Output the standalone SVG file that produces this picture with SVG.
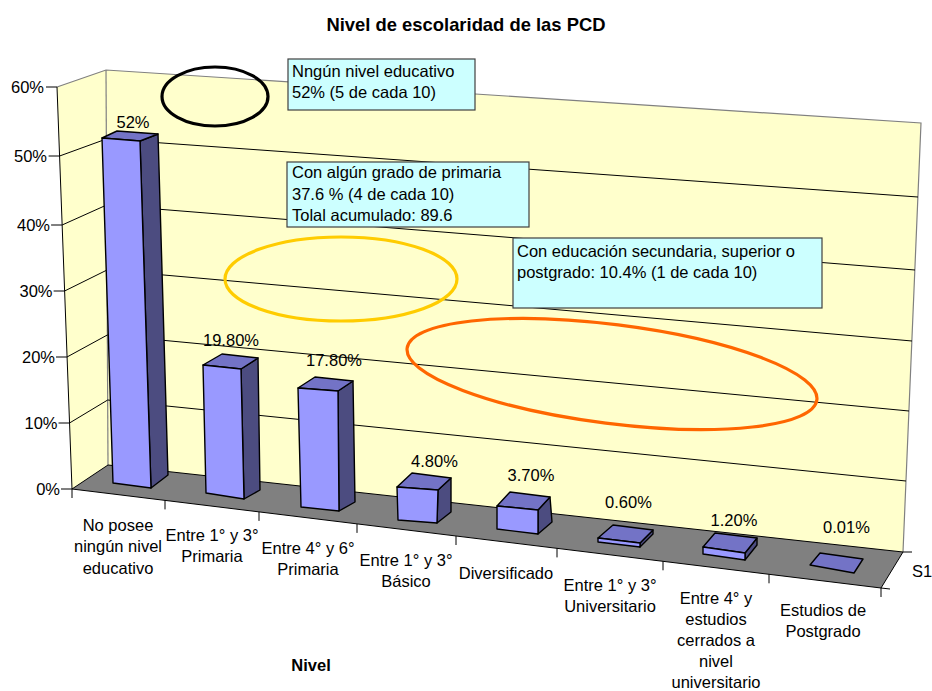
<svg xmlns="http://www.w3.org/2000/svg" width="932" height="691" viewBox="0 0 932 691">
<style>
text{font-family:"Liberation Sans",Arial,sans-serif;font-size:16.5px;fill:#000}
.c{text-anchor:middle}
.r{text-anchor:end}
.b{font-weight:bold}
.wall{fill:#FFFFCC;stroke:none}
.edge{stroke:#808080;stroke-width:1.2;fill:none}
.grid{stroke:#000;stroke-width:1;fill:none}
.fr{fill:#9999FF;stroke:#000;stroke-width:1.4;stroke-linejoin:round}
.tp{fill:#7373C6;stroke:#000;stroke-width:1.4;stroke-linejoin:round}
.sd{fill:#4C4C80;stroke:#000;stroke-width:1.4;stroke-linejoin:round}
.box{fill:#CCFFFF;stroke:#404040;stroke-width:1.2}
.tick{stroke:#000;stroke-width:1}
</style>
<rect width="932" height="691" fill="#FFFFFF"/>
<text class="c b" x="466" y="31" style="font-size:18.4px">Nivel de escolaridad de las PCD</text>

<g id="walls">
<polygon class="wall" points="57,87 106,70 108,465 72,489"/>
<polygon class="wall" points="106,70 921,123 903,552 108,465"/>
<polygon fill="#808080" points="72,489 108,465 903,552 881,588"/>
<polyline class="edge" points="57,87 106,70 921,123 903,552"/>
<line class="edge" x1="106" y1="70" x2="108" y2="465"/>
</g>

<g id="gridlines">
<polyline class="grid" points="59.6,156 106.3,139 918,197"/>
<polyline class="grid" points="62.1,225 106.6,205 915,270"/>
<polyline class="grid" points="64.6,291 107,270 912,341"/>
<polyline class="grid" points="67,357 107.3,335 909,411"/>
<polyline class="grid" points="69.5,423 107.7,400 906,481"/>
<polyline class="grid" points="72,489 108,465 903,552 881,588"/>
</g>

<g id="value-axis">
<line class="tick" x1="57" y1="87" x2="72" y2="489"/>
<line class="tick" x1="46" y1="87" x2="57" y2="87"/>
<line class="tick" x1="48.6" y1="156" x2="59.6" y2="156"/>
<line class="tick" x1="51.1" y1="225" x2="62.1" y2="225"/>
<line class="tick" x1="53.6" y1="291" x2="64.6" y2="291"/>
<line class="tick" x1="56" y1="357" x2="67" y2="357"/>
<line class="tick" x1="58.5" y1="423" x2="69.5" y2="423"/>
<line class="tick" x1="61" y1="489" x2="72" y2="489"/>
<text class="r" x="44" y="93">60%</text>
<text class="r" x="47" y="162">50%</text>
<text class="r" x="50" y="231">40%</text>
<text class="r" x="52.5" y="297">30%</text>
<text class="r" x="55" y="363">20%</text>
<text class="r" x="57.5" y="429">10%</text>
<text class="r" x="60" y="495">0%</text>
</g>

<g id="category-axis">
<line class="tick" x1="72" y1="489" x2="881" y2="588"/>
<line class="tick" x1="72" y1="489" x2="72" y2="498"/>
<line class="tick" x1="165" y1="500.4" x2="165" y2="509.4"/>
<line class="tick" x1="259" y1="511.9" x2="259" y2="520.9"/>
<line class="tick" x1="357" y1="523.9" x2="357" y2="532.9"/>
<line class="tick" x1="456" y1="536" x2="456" y2="545"/>
<line class="tick" x1="557" y1="548.4" x2="557" y2="557.4"/>
<line class="tick" x1="663" y1="561.3" x2="663" y2="570.3"/>
<line class="tick" x1="769" y1="574.3" x2="769" y2="583.3"/>
<line class="tick" x1="881" y1="588" x2="881" y2="597"/>
<line class="tick" x1="903" y1="552" x2="912" y2="552"/>
<line class="tick" x1="881" y1="588" x2="890" y2="589"/>
<text x="912" y="577">S1</text>
<text class="c" x="118" y="531">No posee</text>
<text class="c" x="118" y="552">ningún nivel</text>
<text class="c" x="118" y="574">educativo</text>
<text class="c" x="212" y="541">Entre 1° y 3°</text>
<text class="c" x="212" y="562">Primaria</text>
<text class="c" x="308" y="554">Entre 4° y 6°</text>
<text class="c" x="308" y="575">Primaria</text>
<text class="c" x="406" y="566">Entre 1° y 3°</text>
<text class="c" x="406" y="587">Básico</text>
<text class="c" x="506" y="579">Diversificado</text>
<text class="c" x="610" y="591">Entre 1° y 3°</text>
<text class="c" x="610" y="612">Universitario</text>
<text class="c" x="716" y="604">Entre 4° y</text>
<text class="c" x="716" y="625">estudios</text>
<text class="c" x="716" y="646">cerrados a</text>
<text class="c" x="716" y="667">nivel</text>
<text class="c" x="716" y="688">universitario</text>
<text class="c" x="823" y="616">Estudios de</text>
<text class="c" x="823" y="637">Postgrado</text>
<text class="c b" x="311" y="671">Nivel</text>
</g>

<g id="bar-1">
<polygon class="sd" points="140,141 158,134 168,475 151,488"/>
<polygon class="tp" points="102,138 117,131 158,134 140,141"/>
<polygon class="fr" points="102,138 140,141 151,488 113,483"/>
<text class="c" x="133" y="128">52%</text>
</g>
<g id="bar-2">
<polygon class="sd" points="241,369 258,358 260,490 244,499"/>
<polygon class="tp" points="203,365 222,354 258,358 241,369"/>
<polygon class="fr" points="203,365 241,369 244,499 206,493"/>
<text class="c" x="231" y="346">19.80%</text>
</g>
<g id="bar-3">
<polygon class="sd" points="338,391 353,381 355,502 339,511"/>
<polygon class="tp" points="298,388 315,377 353,381 338,391"/>
<polygon class="fr" points="298,388 338,391 339,511 301,507"/>
<text class="c" x="334" y="366">17.80%</text>
</g>
<g id="bar-4">
<polygon class="sd" points="438,490 451,478 451,512 437,523"/>
<polygon class="tp" points="397,487 412,473 451,478 438,490"/>
<polygon class="fr" points="397,487 438,490 437,523 398,520"/>
<text class="c" x="434.5" y="467">4.80%</text>
</g>
<g id="bar-5">
<polygon class="sd" points="538,510 550,497 552,522 538,534"/>
<polygon class="tp" points="497,506 510,492 550,497 538,510"/>
<polygon class="fr" points="497,506 538,510 538,534 497,529"/>
<text class="c" x="531" y="481">3.70%</text>
</g>
<g id="bar-6">
<polygon class="sd" points="640,543 653,530 653,534 640,547"/>
<polygon class="tp" points="598,538 613,525 653,530 640,543"/>
<polygon class="fr" points="598,538 640,543 640,547 598,542"/>
<text class="c" x="628.5" y="508">0.60%</text>
</g>
<g id="bar-7">
<polygon class="sd" points="745,553 757,538 757,545 745,560"/>
<polygon class="tp" points="703,547 715,533 757,538 745,553"/>
<polygon class="fr" points="703,547 745,553 745,560 703,554"/>
<text class="c" x="734" y="526">1.20%</text>
</g>
<g id="bar-8">
<polygon class="tp" points="810,565 820,553 863,559 854,573"/>
<text class="c" x="846.5" y="533">0.01%</text>
</g>

<g id="note-1">
<rect class="box" x="288" y="59" width="187" height="51"/>
<text x="292" y="77">Nngún nivel educativo</text>
<text x="292" y="98">52% (5 de cada 10)</text>
</g>
<g id="note-2">
<rect class="box" x="287" y="162" width="242" height="65"/>
<text x="292" y="178">Con algún grado de primaria</text>
<text x="292" y="199.5">37.6 % (4 de cada 10)</text>
<text x="292" y="221">Tolal acumulado: 89.6</text>
</g>
<g id="note-3">
<rect class="box" x="513" y="238" width="309" height="70"/>
<text x="517" y="257">Con educación secundaria, superior o</text>
<text x="517" y="278">postgrado: 10.4% (1 de cada 10)</text>
</g>

<g id="highlights" fill="none" stroke-width="3.2">
<ellipse id="ellipse-black" cx="215" cy="96.5" rx="53" ry="29.5" stroke="#000000"/>
<ellipse id="ellipse-yellow" cx="341" cy="279" rx="116" ry="42" stroke="#FFCC00"/>
<ellipse id="ellipse-orange" cx="612" cy="374" rx="206.5" ry="49.5" stroke="#FF6600" transform="rotate(7.2 612 374)"/>
</g>
</svg>
